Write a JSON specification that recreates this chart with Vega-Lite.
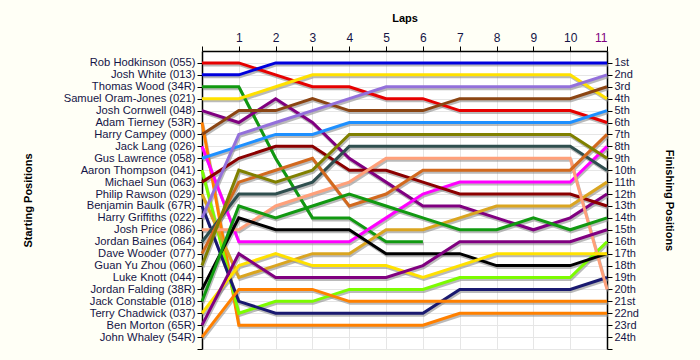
{
  "$schema": "https://vega.github.io/schema/vega-lite/v6.json",
  "width": 405,
  "height": 298,
  "autosize": {"type": "none"},
  "padding": {"left": 202, "top": 51, "right": 93, "bottom": 11},
  "background": "#FFFFF6",
  "config": {
    "view": {"stroke": null, "fill": "#FFFFFF"},
    "font": "Liberation Sans",
    "axis": {
      "domainColor": "#000000",
      "domainWidth": 1.5,
      "tickColor": "#000000",
      "tickSize": 5,
      "gridColor": "#E6E6E6",
      "gridWidth": 1,
      "labelFont": "Liberation Sans",
      "labelColor": "#141446",
      "labelFontSize": 11.5,
      "labelOverlap": false,
      "titleFont": "Liberation Sans",
      "titleFontSize": 11,
      "titleFontWeight": "bold",
      "titleColor": "#000000"
    }
  },
  "data": {
    "values": [
      {"driver": "Rob Hodkinson (055)", "lap": 0, "pos": 1}, {"driver": "Rob Hodkinson (055)", "lap": 1, "pos": 1}, {"driver": "Rob Hodkinson (055)", "lap": 2, "pos": 2}, {"driver": "Rob Hodkinson (055)", "lap": 3, "pos": 3}, {"driver": "Rob Hodkinson (055)", "lap": 4, "pos": 3}, {"driver": "Rob Hodkinson (055)", "lap": 5, "pos": 4}, {"driver": "Rob Hodkinson (055)", "lap": 6, "pos": 4}, {"driver": "Rob Hodkinson (055)", "lap": 7, "pos": 5}, {"driver": "Rob Hodkinson (055)", "lap": 8, "pos": 5}, {"driver": "Rob Hodkinson (055)", "lap": 9, "pos": 5}, {"driver": "Rob Hodkinson (055)", "lap": 10, "pos": 5}, {"driver": "Rob Hodkinson (055)", "lap": 11, "pos": 6},
      {"driver": "Josh White (013)", "lap": 0, "pos": 2}, {"driver": "Josh White (013)", "lap": 1, "pos": 2}, {"driver": "Josh White (013)", "lap": 2, "pos": 1}, {"driver": "Josh White (013)", "lap": 3, "pos": 1}, {"driver": "Josh White (013)", "lap": 4, "pos": 1}, {"driver": "Josh White (013)", "lap": 5, "pos": 1}, {"driver": "Josh White (013)", "lap": 6, "pos": 1}, {"driver": "Josh White (013)", "lap": 7, "pos": 1}, {"driver": "Josh White (013)", "lap": 8, "pos": 1}, {"driver": "Josh White (013)", "lap": 9, "pos": 1}, {"driver": "Josh White (013)", "lap": 10, "pos": 1}, {"driver": "Josh White (013)", "lap": 11, "pos": 1},
      {"driver": "Thomas Wood (34R)", "lap": 0, "pos": 3}, {"driver": "Thomas Wood (34R)", "lap": 1, "pos": 3}, {"driver": "Thomas Wood (34R)", "lap": 2, "pos": 9}, {"driver": "Thomas Wood (34R)", "lap": 3, "pos": 14}, {"driver": "Thomas Wood (34R)", "lap": 4, "pos": 14}, {"driver": "Thomas Wood (34R)", "lap": 5, "pos": 16}, {"driver": "Thomas Wood (34R)", "lap": 6, "pos": 16},
      {"driver": "Samuel Oram-Jones (021)", "lap": 0, "pos": 4}, {"driver": "Samuel Oram-Jones (021)", "lap": 1, "pos": 4}, {"driver": "Samuel Oram-Jones (021)", "lap": 2, "pos": 3}, {"driver": "Samuel Oram-Jones (021)", "lap": 3, "pos": 2}, {"driver": "Samuel Oram-Jones (021)", "lap": 4, "pos": 2}, {"driver": "Samuel Oram-Jones (021)", "lap": 5, "pos": 2}, {"driver": "Samuel Oram-Jones (021)", "lap": 6, "pos": 2}, {"driver": "Samuel Oram-Jones (021)", "lap": 7, "pos": 2}, {"driver": "Samuel Oram-Jones (021)", "lap": 8, "pos": 2}, {"driver": "Samuel Oram-Jones (021)", "lap": 9, "pos": 2}, {"driver": "Samuel Oram-Jones (021)", "lap": 10, "pos": 2}, {"driver": "Samuel Oram-Jones (021)", "lap": 11, "pos": 4},
      {"driver": "Josh Cornwell (048)", "lap": 0, "pos": 5}, {"driver": "Josh Cornwell (048)", "lap": 1, "pos": 6}, {"driver": "Josh Cornwell (048)", "lap": 2, "pos": 4}, {"driver": "Josh Cornwell (048)", "lap": 3, "pos": 6}, {"driver": "Josh Cornwell (048)", "lap": 4, "pos": 9}, {"driver": "Josh Cornwell (048)", "lap": 5, "pos": 11}, {"driver": "Josh Cornwell (048)", "lap": 6, "pos": 13}, {"driver": "Josh Cornwell (048)", "lap": 7, "pos": 13}, {"driver": "Josh Cornwell (048)", "lap": 8, "pos": 14}, {"driver": "Josh Cornwell (048)", "lap": 9, "pos": 15}, {"driver": "Josh Cornwell (048)", "lap": 10, "pos": 14}, {"driver": "Josh Cornwell (048)", "lap": 11, "pos": 12},
      {"driver": "Adam Tierney (53R)", "lap": 0, "pos": 6}, {"driver": "Adam Tierney (53R)", "lap": 1, "pos": 23}, {"driver": "Adam Tierney (53R)", "lap": 2, "pos": 23}, {"driver": "Adam Tierney (53R)", "lap": 3, "pos": 23}, {"driver": "Adam Tierney (53R)", "lap": 4, "pos": 23}, {"driver": "Adam Tierney (53R)", "lap": 5, "pos": 23}, {"driver": "Adam Tierney (53R)", "lap": 6, "pos": 23}, {"driver": "Adam Tierney (53R)", "lap": 7, "pos": 22}, {"driver": "Adam Tierney (53R)", "lap": 8, "pos": 22}, {"driver": "Adam Tierney (53R)", "lap": 9, "pos": 22}, {"driver": "Adam Tierney (53R)", "lap": 10, "pos": 22}, {"driver": "Adam Tierney (53R)", "lap": 11, "pos": 22},
      {"driver": "Harry Campey (000)", "lap": 0, "pos": 7}, {"driver": "Harry Campey (000)", "lap": 1, "pos": 5}, {"driver": "Harry Campey (000)", "lap": 2, "pos": 5}, {"driver": "Harry Campey (000)", "lap": 3, "pos": 4}, {"driver": "Harry Campey (000)", "lap": 4, "pos": 5}, {"driver": "Harry Campey (000)", "lap": 5, "pos": 5}, {"driver": "Harry Campey (000)", "lap": 6, "pos": 5}, {"driver": "Harry Campey (000)", "lap": 7, "pos": 4}, {"driver": "Harry Campey (000)", "lap": 8, "pos": 4}, {"driver": "Harry Campey (000)", "lap": 9, "pos": 4}, {"driver": "Harry Campey (000)", "lap": 10, "pos": 4}, {"driver": "Harry Campey (000)", "lap": 11, "pos": 3},
      {"driver": "Jack Lang (026)", "lap": 0, "pos": 8}, {"driver": "Jack Lang (026)", "lap": 1, "pos": 16}, {"driver": "Jack Lang (026)", "lap": 2, "pos": 16}, {"driver": "Jack Lang (026)", "lap": 3, "pos": 16}, {"driver": "Jack Lang (026)", "lap": 4, "pos": 16}, {"driver": "Jack Lang (026)", "lap": 5, "pos": 14}, {"driver": "Jack Lang (026)", "lap": 6, "pos": 12}, {"driver": "Jack Lang (026)", "lap": 7, "pos": 11}, {"driver": "Jack Lang (026)", "lap": 8, "pos": 11}, {"driver": "Jack Lang (026)", "lap": 9, "pos": 11}, {"driver": "Jack Lang (026)", "lap": 10, "pos": 11}, {"driver": "Jack Lang (026)", "lap": 11, "pos": 8},
      {"driver": "Gus Lawrence (058)", "lap": 0, "pos": 9}, {"driver": "Gus Lawrence (058)", "lap": 1, "pos": 8}, {"driver": "Gus Lawrence (058)", "lap": 2, "pos": 7}, {"driver": "Gus Lawrence (058)", "lap": 3, "pos": 7}, {"driver": "Gus Lawrence (058)", "lap": 4, "pos": 6}, {"driver": "Gus Lawrence (058)", "lap": 5, "pos": 6}, {"driver": "Gus Lawrence (058)", "lap": 6, "pos": 6}, {"driver": "Gus Lawrence (058)", "lap": 7, "pos": 6}, {"driver": "Gus Lawrence (058)", "lap": 8, "pos": 6}, {"driver": "Gus Lawrence (058)", "lap": 9, "pos": 6}, {"driver": "Gus Lawrence (058)", "lap": 10, "pos": 6}, {"driver": "Gus Lawrence (058)", "lap": 11, "pos": 5},
      {"driver": "Aaron Thompson (041)", "lap": 0, "pos": 10}, {"driver": "Aaron Thompson (041)", "lap": 1, "pos": 22}, {"driver": "Aaron Thompson (041)", "lap": 2, "pos": 21}, {"driver": "Aaron Thompson (041)", "lap": 3, "pos": 21}, {"driver": "Aaron Thompson (041)", "lap": 4, "pos": 20}, {"driver": "Aaron Thompson (041)", "lap": 5, "pos": 20}, {"driver": "Aaron Thompson (041)", "lap": 6, "pos": 20}, {"driver": "Aaron Thompson (041)", "lap": 7, "pos": 19}, {"driver": "Aaron Thompson (041)", "lap": 8, "pos": 19}, {"driver": "Aaron Thompson (041)", "lap": 9, "pos": 19}, {"driver": "Aaron Thompson (041)", "lap": 10, "pos": 19}, {"driver": "Aaron Thompson (041)", "lap": 11, "pos": 16},
      {"driver": "Michael Sun (063)", "lap": 0, "pos": 11}, {"driver": "Michael Sun (063)", "lap": 1, "pos": 9}, {"driver": "Michael Sun (063)", "lap": 2, "pos": 8}, {"driver": "Michael Sun (063)", "lap": 3, "pos": 8}, {"driver": "Michael Sun (063)", "lap": 4, "pos": 10}, {"driver": "Michael Sun (063)", "lap": 5, "pos": 10}, {"driver": "Michael Sun (063)", "lap": 6, "pos": 11}, {"driver": "Michael Sun (063)", "lap": 7, "pos": 12}, {"driver": "Michael Sun (063)", "lap": 8, "pos": 12}, {"driver": "Michael Sun (063)", "lap": 9, "pos": 12}, {"driver": "Michael Sun (063)", "lap": 10, "pos": 12}, {"driver": "Michael Sun (063)", "lap": 11, "pos": 13},
      {"driver": "Philip Rawson (029)", "lap": 0, "pos": 12}, {"driver": "Philip Rawson (029)", "lap": 1, "pos": 19}, {"driver": "Philip Rawson (029)", "lap": 2, "pos": 18}, {"driver": "Philip Rawson (029)", "lap": 3, "pos": 17}, {"driver": "Philip Rawson (029)", "lap": 4, "pos": 17}, {"driver": "Philip Rawson (029)", "lap": 5, "pos": 15}, {"driver": "Philip Rawson (029)", "lap": 6, "pos": 15}, {"driver": "Philip Rawson (029)", "lap": 7, "pos": 14}, {"driver": "Philip Rawson (029)", "lap": 8, "pos": 13}, {"driver": "Philip Rawson (029)", "lap": 9, "pos": 13}, {"driver": "Philip Rawson (029)", "lap": 10, "pos": 13}, {"driver": "Philip Rawson (029)", "lap": 11, "pos": 11},
      {"driver": "Benjamin Baulk (67R)", "lap": 0, "pos": 13}, {"driver": "Benjamin Baulk (67R)", "lap": 1, "pos": 21}, {"driver": "Benjamin Baulk (67R)", "lap": 2, "pos": 22}, {"driver": "Benjamin Baulk (67R)", "lap": 3, "pos": 22}, {"driver": "Benjamin Baulk (67R)", "lap": 4, "pos": 22}, {"driver": "Benjamin Baulk (67R)", "lap": 5, "pos": 22}, {"driver": "Benjamin Baulk (67R)", "lap": 6, "pos": 22}, {"driver": "Benjamin Baulk (67R)", "lap": 7, "pos": 20}, {"driver": "Benjamin Baulk (67R)", "lap": 8, "pos": 20}, {"driver": "Benjamin Baulk (67R)", "lap": 9, "pos": 20}, {"driver": "Benjamin Baulk (67R)", "lap": 10, "pos": 20}, {"driver": "Benjamin Baulk (67R)", "lap": 11, "pos": 19},
      {"driver": "Harry Griffiths (022)", "lap": 0, "pos": 14}, {"driver": "Harry Griffiths (022)", "lap": 1, "pos": 7}, {"driver": "Harry Griffiths (022)", "lap": 2, "pos": 6}, {"driver": "Harry Griffiths (022)", "lap": 3, "pos": 5}, {"driver": "Harry Griffiths (022)", "lap": 4, "pos": 4}, {"driver": "Harry Griffiths (022)", "lap": 5, "pos": 3}, {"driver": "Harry Griffiths (022)", "lap": 6, "pos": 3}, {"driver": "Harry Griffiths (022)", "lap": 7, "pos": 3}, {"driver": "Harry Griffiths (022)", "lap": 8, "pos": 3}, {"driver": "Harry Griffiths (022)", "lap": 9, "pos": 3}, {"driver": "Harry Griffiths (022)", "lap": 10, "pos": 3}, {"driver": "Harry Griffiths (022)", "lap": 11, "pos": 2},
      {"driver": "Josh Price (086)", "lap": 0, "pos": 15}, {"driver": "Josh Price (086)", "lap": 1, "pos": 15}, {"driver": "Josh Price (086)", "lap": 2, "pos": 13}, {"driver": "Josh Price (086)", "lap": 3, "pos": 12}, {"driver": "Josh Price (086)", "lap": 4, "pos": 11}, {"driver": "Josh Price (086)", "lap": 5, "pos": 9}, {"driver": "Josh Price (086)", "lap": 6, "pos": 9}, {"driver": "Josh Price (086)", "lap": 7, "pos": 9}, {"driver": "Josh Price (086)", "lap": 8, "pos": 9}, {"driver": "Josh Price (086)", "lap": 9, "pos": 9}, {"driver": "Josh Price (086)", "lap": 10, "pos": 9}, {"driver": "Josh Price (086)", "lap": 11, "pos": 20},
      {"driver": "Jordan Baines (064)", "lap": 0, "pos": 16}, {"driver": "Jordan Baines (064)", "lap": 1, "pos": 12}, {"driver": "Jordan Baines (064)", "lap": 2, "pos": 12}, {"driver": "Jordan Baines (064)", "lap": 3, "pos": 11}, {"driver": "Jordan Baines (064)", "lap": 4, "pos": 8}, {"driver": "Jordan Baines (064)", "lap": 5, "pos": 8}, {"driver": "Jordan Baines (064)", "lap": 6, "pos": 8}, {"driver": "Jordan Baines (064)", "lap": 7, "pos": 8}, {"driver": "Jordan Baines (064)", "lap": 8, "pos": 8}, {"driver": "Jordan Baines (064)", "lap": 9, "pos": 8}, {"driver": "Jordan Baines (064)", "lap": 10, "pos": 8}, {"driver": "Jordan Baines (064)", "lap": 11, "pos": 10},
      {"driver": "Dave Wooder (077)", "lap": 0, "pos": 17}, {"driver": "Dave Wooder (077)", "lap": 1, "pos": 11}, {"driver": "Dave Wooder (077)", "lap": 2, "pos": 10}, {"driver": "Dave Wooder (077)", "lap": 3, "pos": 9}, {"driver": "Dave Wooder (077)", "lap": 4, "pos": 13}, {"driver": "Dave Wooder (077)", "lap": 5, "pos": 12}, {"driver": "Dave Wooder (077)", "lap": 6, "pos": 10}, {"driver": "Dave Wooder (077)", "lap": 7, "pos": 10}, {"driver": "Dave Wooder (077)", "lap": 8, "pos": 10}, {"driver": "Dave Wooder (077)", "lap": 9, "pos": 10}, {"driver": "Dave Wooder (077)", "lap": 10, "pos": 10}, {"driver": "Dave Wooder (077)", "lap": 11, "pos": 7},
      {"driver": "Guan Yu Zhou (060)", "lap": 0, "pos": 18}, {"driver": "Guan Yu Zhou (060)", "lap": 1, "pos": 10}, {"driver": "Guan Yu Zhou (060)", "lap": 2, "pos": 11}, {"driver": "Guan Yu Zhou (060)", "lap": 3, "pos": 10}, {"driver": "Guan Yu Zhou (060)", "lap": 4, "pos": 7}, {"driver": "Guan Yu Zhou (060)", "lap": 5, "pos": 7}, {"driver": "Guan Yu Zhou (060)", "lap": 6, "pos": 7}, {"driver": "Guan Yu Zhou (060)", "lap": 7, "pos": 7}, {"driver": "Guan Yu Zhou (060)", "lap": 8, "pos": 7}, {"driver": "Guan Yu Zhou (060)", "lap": 9, "pos": 7}, {"driver": "Guan Yu Zhou (060)", "lap": 10, "pos": 7}, {"driver": "Guan Yu Zhou (060)", "lap": 11, "pos": 9},
      {"driver": "Jordan Falding (38R)", "lap": 0, "pos": 20}, {"driver": "Jordan Falding (38R)", "lap": 1, "pos": 14}, {"driver": "Jordan Falding (38R)", "lap": 2, "pos": 15}, {"driver": "Jordan Falding (38R)", "lap": 3, "pos": 15}, {"driver": "Jordan Falding (38R)", "lap": 4, "pos": 15}, {"driver": "Jordan Falding (38R)", "lap": 5, "pos": 17}, {"driver": "Jordan Falding (38R)", "lap": 6, "pos": 17}, {"driver": "Jordan Falding (38R)", "lap": 7, "pos": 17}, {"driver": "Jordan Falding (38R)", "lap": 8, "pos": 18}, {"driver": "Jordan Falding (38R)", "lap": 9, "pos": 18}, {"driver": "Jordan Falding (38R)", "lap": 10, "pos": 18}, {"driver": "Jordan Falding (38R)", "lap": 11, "pos": 17},
      {"driver": "Jack Constable (018)", "lap": 0, "pos": 21}, {"driver": "Jack Constable (018)", "lap": 1, "pos": 13}, {"driver": "Jack Constable (018)", "lap": 2, "pos": 14}, {"driver": "Jack Constable (018)", "lap": 3, "pos": 13}, {"driver": "Jack Constable (018)", "lap": 4, "pos": 12}, {"driver": "Jack Constable (018)", "lap": 5, "pos": 13}, {"driver": "Jack Constable (018)", "lap": 6, "pos": 14}, {"driver": "Jack Constable (018)", "lap": 7, "pos": 15}, {"driver": "Jack Constable (018)", "lap": 8, "pos": 15}, {"driver": "Jack Constable (018)", "lap": 9, "pos": 14}, {"driver": "Jack Constable (018)", "lap": 10, "pos": 15}, {"driver": "Jack Constable (018)", "lap": 11, "pos": 14},
      {"driver": "Terry Chadwick (037)", "lap": 0, "pos": 22}, {"driver": "Terry Chadwick (037)", "lap": 1, "pos": 18}, {"driver": "Terry Chadwick (037)", "lap": 2, "pos": 17}, {"driver": "Terry Chadwick (037)", "lap": 3, "pos": 18}, {"driver": "Terry Chadwick (037)", "lap": 4, "pos": 18}, {"driver": "Terry Chadwick (037)", "lap": 5, "pos": 18}, {"driver": "Terry Chadwick (037)", "lap": 6, "pos": 19}, {"driver": "Terry Chadwick (037)", "lap": 7, "pos": 18}, {"driver": "Terry Chadwick (037)", "lap": 8, "pos": 17}, {"driver": "Terry Chadwick (037)", "lap": 9, "pos": 17}, {"driver": "Terry Chadwick (037)", "lap": 10, "pos": 17}, {"driver": "Terry Chadwick (037)", "lap": 11, "pos": 17},
      {"driver": "Ben Morton (65R)", "lap": 0, "pos": 23}, {"driver": "Ben Morton (65R)", "lap": 1, "pos": 17}, {"driver": "Ben Morton (65R)", "lap": 2, "pos": 19}, {"driver": "Ben Morton (65R)", "lap": 3, "pos": 19}, {"driver": "Ben Morton (65R)", "lap": 4, "pos": 19}, {"driver": "Ben Morton (65R)", "lap": 5, "pos": 19}, {"driver": "Ben Morton (65R)", "lap": 6, "pos": 18}, {"driver": "Ben Morton (65R)", "lap": 7, "pos": 16}, {"driver": "Ben Morton (65R)", "lap": 8, "pos": 16}, {"driver": "Ben Morton (65R)", "lap": 9, "pos": 16}, {"driver": "Ben Morton (65R)", "lap": 10, "pos": 16}, {"driver": "Ben Morton (65R)", "lap": 11, "pos": 15},
      {"driver": "John Whaley (54R)", "lap": 0, "pos": 24}, {"driver": "John Whaley (54R)", "lap": 1, "pos": 20}, {"driver": "John Whaley (54R)", "lap": 2, "pos": 20}, {"driver": "John Whaley (54R)", "lap": 3, "pos": 20}, {"driver": "John Whaley (54R)", "lap": 4, "pos": 21}, {"driver": "John Whaley (54R)", "lap": 5, "pos": 21}, {"driver": "John Whaley (54R)", "lap": 6, "pos": 21}, {"driver": "John Whaley (54R)", "lap": 7, "pos": 21}, {"driver": "John Whaley (54R)", "lap": 8, "pos": 21}, {"driver": "John Whaley (54R)", "lap": 9, "pos": 21}, {"driver": "John Whaley (54R)", "lap": 10, "pos": 21}, {"driver": "John Whaley (54R)", "lap": 11, "pos": 21}
    ]
  },
  "encoding": {
    "x": {
      "field": "lap", "type": "quantitative",
      "scale": {"domain": [0, 11], "nice": false, "zero": false},
      "axis": {
        "orient": "top",
        "values": [0, 1, 2, 3, 4, 5, 6, 7, 8, 9, 10, 11],
        "labelExpr": "datum.value == 0 ? '' : datum.label",
        "labelColor": {"condition": {"test": "datum.value == 11", "value": "#800080"}, "value": "#141446"},
        "labelPadding": 2,
        "labelFontSize": 12,
        "grid": true,
        "title": "Laps",
        "titleX": 202.5,
        "titleY": -33,
        "titleBaseline": "middle"
      }
    },
    "y": {
      "field": "pos", "type": "quantitative",
      "scale": {"domain": [0, 25], "reverse": true, "nice": false, "zero": false}
    }
  },
  "layer": [
    {
      "mark": {"type": "line", "strokeWidth": 3, "color": "#8C8C8C", "opacity": 0.6, "xOffset": 1, "yOffset": 2, "strokeJoin": "miter"},
      "encoding": {
        "detail": {"field": "driver"},
        "y": {
          "field": "pos", "type": "quantitative",
          "axis": {
            "orient": "left",
            "values": [1, 2, 3, 4, 5, 6, 7, 8, 9, 10, 11, 12, 13, 14, 15, 16, 17, 18, 19, 20, 21, 22, 23, 24, 25],
            "labelExpr": "datum.value <= 24 ? ['Rob Hodkinson (055)','Josh White (013)','Thomas Wood (34R)','Samuel Oram-Jones (021)','Josh Cornwell (048)','Adam Tierney (53R)','Harry Campey (000)','Jack Lang (026)','Gus Lawrence (058)','Aaron Thompson (041)','Michael Sun (063)','Philip Rawson (029)','Benjamin Baulk (67R)','Harry Griffiths (022)','Josh Price (086)','Jordan Baines (064)','Dave Wooder (077)','Guan Yu Zhou (060)','Luke Knott (044)','Jordan Falding (38R)','Jack Constable (018)','Terry Chadwick (037)','Ben Morton (65R)','John Whaley (54R)'][datum.value - 1] : ''",
            "labelPadding": 2,
            "labelFontSize": 11.2,
            "grid": true,
            "title": "Starting Positions",
            "titleAngle": -90,
            "titleX": -174,
            "titleY": 149,
            "titleBaseline": "middle",
            "titleAlign": "center"
          }
        }
      }
    },
    {
      "mark": {"type": "line", "strokeWidth": 3, "strokeJoin": "miter"},
      "encoding": {
        "color": {
          "field": "driver", "type": "nominal", "legend": null,
          "scale": {
            "domain": ["Rob Hodkinson (055)", "Josh White (013)", "Thomas Wood (34R)", "Samuel Oram-Jones (021)", "Josh Cornwell (048)", "Adam Tierney (53R)", "Harry Campey (000)", "Jack Lang (026)", "Gus Lawrence (058)", "Aaron Thompson (041)", "Michael Sun (063)", "Philip Rawson (029)", "Benjamin Baulk (67R)", "Harry Griffiths (022)", "Josh Price (086)", "Jordan Baines (064)", "Dave Wooder (077)", "Guan Yu Zhou (060)", "Jordan Falding (38R)", "Jack Constable (018)", "Terry Chadwick (037)", "Ben Morton (65R)", "John Whaley (54R)"],
            "range": ["#E60000", "#0000DD", "#119911", "#FFE100", "#800080", "#FF8000", "#8B4513", "#FF00FF", "#1E90FF", "#7CFC00", "#8B0000", "#DAA520", "#191970", "#9370DB", "#FFA07A", "#2F4F4F", "#D2691E", "#808000", "#000000", "#119911", "#FFE100", "#800080", "#FF8000"]
          }
        },
        "y": {
          "field": "pos", "type": "quantitative",
          "axis": {
            "orient": "right",
            "values": [1, 2, 3, 4, 5, 6, 7, 8, 9, 10, 11, 12, 13, 14, 15, 16, 17, 18, 19, 20, 21, 22, 23, 24, 25],
            "labelExpr": "datum.value > 24 ? '' : datum.value + ((datum.value == 1 || datum.value == 21) ? 'st' : (datum.value == 2 || datum.value == 22) ? 'nd' : (datum.value == 3 || datum.value == 23) ? 'rd' : 'th')",
            "labelPadding": 2,
            "labelFontSize": 11,
            "grid": false,
            "title": "Finishing Positions",
            "titleAngle": 90,
            "titleX": 61,
            "titleY": 149,
            "titleBaseline": "middle",
            "titleAlign": "center"
          }
        }
      }
    }
  ],
  "resolve": {"axis": {"y": "independent"}}
}
